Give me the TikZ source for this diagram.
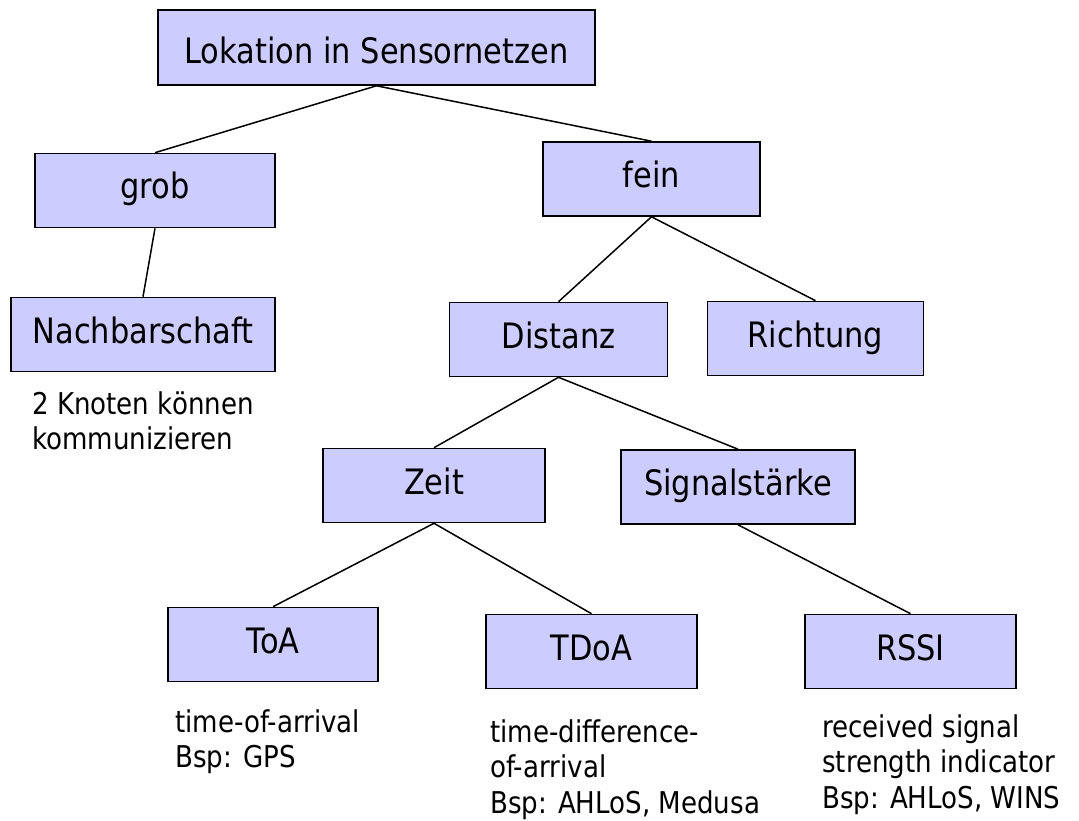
\documentclass[tikz,border=0pt]{standalone}
\usepackage{fontspec}
\setmainfont{DejaVu Sans}[FakeStretch=0.87]
\definecolor{boxfill}{RGB}{204,204,255}
\tikzset{
  treebox/.style={draw=black, fill=boxfill, line width=1.6pt, inner sep=0pt,
    minimum height=74pt, text height=26pt, text depth=9pt,
    font=\fontsize{35}{42}\selectfont},
  edge/.style={draw=black, line width=1.5pt},
  note/.style={anchor=base west, inner sep=0pt, align=left,
    font=\fontsize{30}{35.5}\selectfont}
}
\begin{document}
\begin{tikzpicture}[x=1pt,y=-1pt]
\useasboundingbox (0,0) rectangle (1079,821);
\node[treebox, minimum width=437pt, minimum height=75pt, text height=33pt, text depth=0pt] (lok) at (376.5,47.5) {Lokation in Sensornetzen};
\node[treebox, minimum width=240pt] (grob) at (155,190.5) {grob};
\node[treebox, minimum width=217pt] (fein) at (651.5,179) {fein};
\node[treebox, minimum width=264pt] (nach) at (143,334.5) {Nachbarschaft};
\node[treebox, minimum width=218pt] (dist) at (558.5,339.5) {Distanz};
\node[treebox, minimum width=216pt] (richt) at (815.5,338.5) {Richtung};
\node[treebox, minimum width=222pt] (zeit) at (434,485.5) {Zeit};
\node[treebox, minimum width=234pt] (sig) at (738,487) {Signalstärke};
\node[treebox, minimum width=210pt] (toa) at (273,644.5) {ToA};
\node[treebox, minimum width=211pt] (tdoa) at (591.5,651.5) {TDoA};
\node[treebox, minimum width=211pt] (rssi) at (910.5,651.5) {RSSI};

\draw[edge] (lok.south) -- (grob.north);
\draw[edge] (lok.south) -- (fein.north);
\draw[edge] (grob.south) -- (nach.north);
\draw[edge] (fein.south) -- (dist.north);
\draw[edge] (fein.south) -- (richt.north);
\draw[edge] (dist.south) -- (zeit.north);
\draw[edge] (dist.south) -- (sig.north);
\draw[edge] (zeit.south) -- (toa.north);
\draw[edge] (zeit.south) -- (tdoa.north);
\draw[edge] (sig.south) -- (rssi.north);

\node[note] (nachtxt) at (32,414) {\begin{tabular}[t]{@{}l@{}}2 Knoten können\\kommunizieren\end{tabular}};
\node[note] (toatxt) at (175,732) {\begin{tabular}[t]{@{}l@{}}time-of-arrival\\Bsp: GPS\end{tabular}};
\node[note] (tdoatxt) at (490,742) {\begin{tabular}[t]{@{}l@{}}time-difference-\\of-arrival\\Bsp: AHLoS, Medusa\end{tabular}};
\node[note] (rssitxt) at (822,737) {\begin{tabular}[t]{@{}l@{}}received signal\\strength indicator\\Bsp: AHLoS, WINS\end{tabular}};
\end{tikzpicture}
\end{document}
